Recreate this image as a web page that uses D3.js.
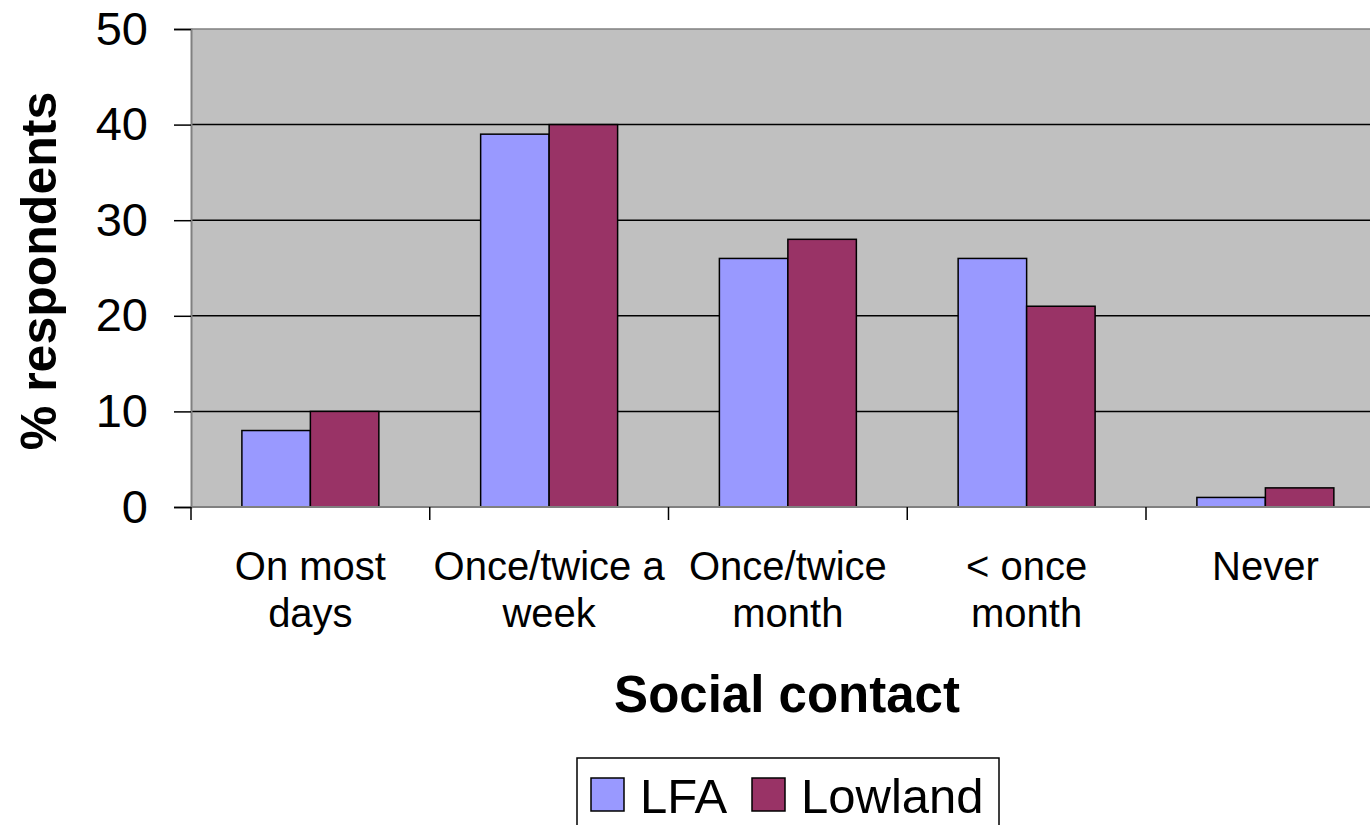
<!DOCTYPE html>
<html>
<head>
<meta charset="utf-8">
<script src="https://cdn.jsdelivr.net/npm/d3@7"></script>
<style>
  body { margin: 0; background: #fff; }
  svg { display: block; font-family: "Liberation Sans", Arial, sans-serif; }
</style>
</head>
<body>
<svg id="chart" width="1370" height="825"></svg>
<script>
// chart data
var categories = [["On most", "days"], ["Once/twice a", "week"], ["Once/twice", "month"], ["< once", "month"], ["Never"]];
var seriesNames = ["LFA", "Lowland"];
var lfa = [8, 39, 26, 26, 1];
var lowland = [10, 40, 28, 21, 2];
var yTicks = [0, 10, 20, 30, 40, 50];

var colors = {LFA: "#9999ff", Lowland: "#993366"};

var margin = {top: 29, left: 191},
    step = 238.75,
    width = step * categories.length,
    height = 478;

var svg = d3.select("#chart");
var g = svg.append("g")
    .attr("transform", "translate(" + margin.left + "," + margin.top + ")");

var catKeys = categories.map(function(c) { return c.join(" "); });

var x0 = d3.scaleBand().domain(catKeys).range([0, width]).padding(0);
var x1 = d3.scaleBand().domain(seriesNames).range([0, x0.bandwidth()])
    .paddingInner(0).paddingOuter(0.743);
var y = d3.scaleLinear().domain([0, 50]).range([height, 0]);

// plot background
g.append("rect")
    .attr("width", width)
    .attr("height", height)
    .attr("fill", "#c0c0c0");

// gridlines
g.selectAll(".grid")
  .data(yTicks.filter(function(d) { return d > 0 && d < 50; }))
  .enter().append("line")
    .attr("x1", 0).attr("x2", width)
    .attr("y1", function(d) { return y(d); })
    .attr("y2", function(d) { return y(d); })
    .attr("stroke", "#000")
    .attr("stroke-width", 1.5);

// top border
g.append("line")
    .attr("x1", 0).attr("x2", width)
    .attr("y1", y(50)).attr("y2", y(50))
    .attr("stroke", "#808080").attr("stroke-width", 1.5);

// bars
var rows = catKeys.map(function(k, i) {
  return {cat: k, values: [{s: "LFA", v: lfa[i]}, {s: "Lowland", v: lowland[i]}]};
});

var groups = g.selectAll(".grp")
  .data(rows)
  .enter().append("g")
    .attr("transform", function(d) { return "translate(" + x0(d.cat) + ",0)"; });

groups.selectAll("rect")
  .data(function(d) { return d.values; })
  .enter().append("rect")
    .attr("x", function(d) { return x1(d.s); })
    .attr("width", x1.bandwidth())
    .attr("y", function(d) { return y(d.v); })
    .attr("height", function(d) { return height - y(d.v); })
    .attr("fill", function(d) { return colors[d.s]; })
    .attr("stroke", "#000")
    .attr("stroke-width", 1.5);

// y axis
var yAxis = d3.axisLeft(y).tickValues(yTicks).tickSize(17).tickPadding(26);
var ya = g.append("g").call(yAxis);
ya.select(".domain").attr("stroke", "#808080").attr("stroke-width", 2);
ya.selectAll(".tick line").attr("stroke", "#000").attr("stroke-width", 1.5);
ya.selectAll(".tick text")
    .attr("font-size", 47)
    .attr("fill", "#000")
    .attr("font-family", "'Liberation Sans', Arial, sans-serif");

// x axis line
g.append("line")
    .attr("x1", 0).attr("x2", width)
    .attr("y1", height).attr("y2", height)
    .attr("stroke", "#808080").attr("stroke-width", 2);

// category tick marks
g.selectAll(".xtick")
  .data(catKeys.concat(["end"]))
  .enter().append("line")
    .attr("x1", function(d, i) { return i * x0.step(); })
    .attr("x2", function(d, i) { return i * x0.step(); })
    .attr("y1", height).attr("y2", height + 13)
    .attr("stroke", "#000").attr("stroke-width", 1.5);

// category labels
var labels = g.selectAll(".xlab")
  .data(categories)
  .enter().append("text")
    .attr("text-anchor", "middle")
    .attr("font-size", 40)
    .attr("fill", "#000")
    .attr("transform", function(d, i) {
      return "translate(" + (x0(catKeys[i]) + x0.bandwidth() / 2) + "," + (580 - margin.top) + ")";
    });
labels.selectAll("tspan")
  .data(function(d) { return d; })
  .enter().append("tspan")
    .attr("x", 0)
    .attr("dy", function(d, i) { return i === 0 ? 0 : 47; })
    .text(function(d) { return d; });

// axis titles
svg.append("text")
    .attr("x", 787)
    .attr("y", 712)
    .attr("text-anchor", "middle")
    .attr("font-size", 51)
    .attr("font-weight", "bold")
    .text("Social contact");

svg.append("text")
    .attr("transform", "translate(56," + (margin.top + height / 2 + 3) + ") rotate(-90)")
    .attr("text-anchor", "middle")
    .attr("font-size", 50)
    .attr("font-weight", "bold")
    .text("% respondents");

// legend
var legend = svg.append("g").attr("transform", "translate(577,758)");
legend.append("rect")
    .attr("width", 422).attr("height", 80)
    .attr("fill", "#fff").attr("stroke", "#000").attr("stroke-width", 1.5);

var legX = [14, 175];
seriesNames.forEach(function(s, i) {
  legend.append("rect")
    .attr("x", legX[i]).attr("y", 20)
    .attr("width", 33).attr("height", 33)
    .attr("fill", colors[s]).attr("stroke", "#000").attr("stroke-width", 1.5);
  legend.append("text")
    .attr("x", legX[i] + 49).attr("y", 55)
    .attr("font-size", 49)
    .text(s);
});
</script>
</body>
</html>
